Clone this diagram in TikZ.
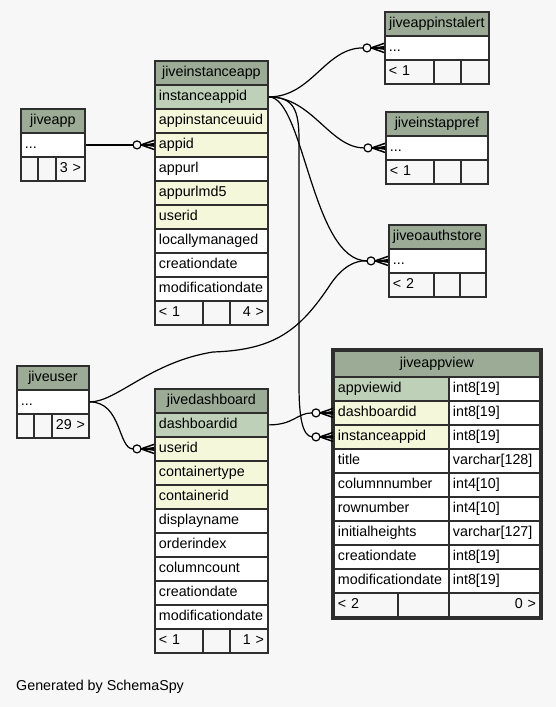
\documentclass[tikz,border=0pt]{standalone}
\usepackage{fontspec}
\setmainfont{Liberation Sans}
\usepackage{tikz}
\definecolor{bgc}{HTML}{F7F7F7}
\definecolor{headc}{HTML}{9BAB96}
\definecolor{pkc}{HTML}{BED1B8}
\definecolor{fkc}{HTML}{F4F7DA}
\definecolor{linec}{HTML}{2E2E2E}

\begin{document}
\begin{tikzpicture}[x=1pt, y=-1pt,
    cellbox/.style={draw=linec, line width=1.8pt, inner xsep=4pt, inner ysep=0pt,
        minimum height=24pt, text height=10.5pt, text depth=3.5pt,
        font=\fontsize{14.3}{17}\selectfont, align=left},
    fklink/.style={line width=1.2pt, black}]
            %% 定义cellrow命令: 名字, x, y, 宽度, 选项, 文字
            \newcommand{\cellrow}[6]{
                \node[cellbox, #5, minimum width=#4, text width=#4-8, anchor=north west]
                    (#1) at (#2, #3) {#6};
            }
            %% 定义crowodot命令
            \newcommand{\crowodot}[1]{
                \begin{scope}[shift={(#1)}]
                \draw[fklink, line width=1.5pt] (-13, 0)--(0, -4.5) (-13, 0)--(0, 0) (-13, 0)--(0, 4.5);
                \fill[black] (-13, 0)--(0, -2)--(0, 2)--cycle;
                \draw[fklink, fill=bgc] (-17, 0) circle [radius=4];
                \end{scope}
            }
            %% 背景
            \useasboundingbox (0, 0) rectangle (556, 707);
            \fill[bgc] (0, 0) rectangle (556, 707);

            %% jiveapp
            \cellrow{jiveapp}{20}{108}{64}{fill=headc, align=center}{jiveapp}
            \cellrow{ja-dots}{20}{132}{64}{fill=white}{...}
            \cellrow{ja-f1}{20}{156}{17}{}{}
            \cellrow{ja-f2}{37}{156}{18}{}{}
            \cellrow{ja-f3}{55}{156}{29}{align=right, inner xsep=3pt}{3~>}

            %% jiveinstanceapp
            \cellrow{jiveinstanceapp}{154}{60}{113}{fill=headc, align=center}{jiveinstanceapp}
            \foreach \n/\c [count=\i] in {instanceappid/pkc, appinstanceuuid/fkc, appid/fkc,
                    appurl/white, appurlmd5/fkc, userid/fkc, locallymanaged/white,
                    creationdate/white, modificationdate/white}{
                \cellrow{ia-\n}{154}{60+24*\i}{113}{fill=\c}{\n}
            }
            \cellrow{ia-f1}{154}{300}{48}{}{<~1}
            \cellrow{ia-f2}{202}{300}{27}{}{}
            \cellrow{ia-f3}{229}{300}{38}{align=right}{4~>}

            %% jiveappinstalert
            \cellrow{jiveappinstalert}{384}{11}{104}{fill=headc, align=center}{jiveappinstalert}
            \cellrow{al-dots}{384}{35}{104}{fill=white}{...}
            \cellrow{al-f1}{384}{59}{49}{}{<~1}
            \cellrow{al-f2}{433}{59}{27}{}{}
            \cellrow{al-f3}{460}{59}{28}{}{}

            %% jiveinstappref
            \cellrow{jiveinstappref}{385}{111}{102}{fill=headc, align=center}{jiveinstappref}
            \cellrow{ap-dots}{385}{135}{102}{fill=white}{...}
            \cellrow{ap-f1}{385}{159}{48}{}{<~1}
            \cellrow{ap-f2}{433}{159}{27}{}{}
            \cellrow{ap-f3}{460}{159}{27}{}{}

            %% jiveoauthstore
            \cellrow{jiveoauthstore}{388}{224}{97}{fill=headc, align=center}{jiveoauthstore}
            \cellrow{oa-dots}{388}{248}{97}{fill=white}{...}
            \cellrow{oa-f1}{388}{272}{45}{}{<~2}
            \cellrow{oa-f2}{433}{272}{26}{}{}
            \cellrow{oa-f3}{459}{272}{26}{}{}

            %% jiveuser
            \cellrow{jiveuser}{16}{365}{72}{fill=headc, align=center}{jiveuser}
            \cellrow{ju-dots}{16}{389}{72}{fill=white}{...}
            \cellrow{ju-f1}{16}{413}{17}{}{}
            \cellrow{ju-f2}{33}{413}{18}{}{}
            \cellrow{ju-f3}{51}{413}{37}{align=right, inner xsep=3pt}{29~>}

            %% jivedashboard
            \cellrow{jivedashboard}{154}{388}{113}{fill=headc, align=center}{jivedashboard}
            \foreach \n/\c [count=\i] in {dashboardid/pkc, userid/fkc, containertype/fkc,
                    containerid/fkc, displayname/white, orderindex/white, columncount/white,
                    creationdate/white, modificationdate/white}{
                \cellrow{jd-\n}{154}{388+24*\i}{113}{fill=\c}{\n}
            }
            \cellrow{jd-f1}{154}{628}{48}{}{<~1}
            \cellrow{jd-f2}{202}{628}{27}{}{}
            \cellrow{jd-f3}{229}{628}{38}{align=right}{1~>}

            %% jiveappview
            \cellrow{jiveappview}{333}{350}{206}{fill=headc, align=center, minimum height=26pt}{jiveappview}
            \foreach \n/\c/\ty [count=\i] in {appviewid/pkc/int8[19], dashboardid/fkc/int8[19],
                    instanceappid/fkc/int8[19], title/white/varchar[128], columnnumber/white/int4[10],
                    rownumber/white/int4[10], initialheights/white/varchar[127],
                    creationdate/white/int8[19], modificationdate/white/int8[19]}{
                \cellrow{av-\n}{333}{352+24*\i}{115}{fill=\c}{\n}
                \cellrow{av-\n-t}{448}{352+24*\i}{91}{fill=white}{\ty}
            }
            \cellrow{av-f1}{333}{592}{64}{}{<~2}
            \cellrow{av-f2}{397}{592}{51}{}{}
            \cellrow{av-f3}{448}{592}{91}{align=right}{0~>}
            \draw[linec, line width=3.5pt] (jiveappview.north west) rectangle (av-f3.south east);

            %% 连线
            \draw[fklink] (ja-dots.east)--([xshift=-21pt]ia-appid.west);
            \draw[fklink] (ia-instanceappid.east) .. controls +(43, 0) and +(-38, 0) .. ([xshift=-21pt]al-dots.west);
            \draw[fklink] (ia-instanceappid.east) .. controls +(43, 0) and +(-34, 0) .. ([xshift=-21pt]ap-dots.west);
            \draw[fklink] (ia-instanceappid.east) .. controls +(35, 0) and +(-55, 0) .. ([xshift=-21pt]oa-dots.west);
            \draw[fklink] (ia-instanceappid.east) .. controls +(25, 0) and (299, 110) .. (299, 140)
                --(299, 385) .. controls (299, 415) and (302, 436) .. ([xshift=-21pt]av-instanceappid.west);
            \draw[fklink] (ju-dots.east) .. controls +(27, 0) and (150, 362) .. (213, 352)
                .. controls (275, 350) and (300, 330) .. (330, 285)
                .. controls (342, 267) and (355, 260) .. ([xshift=-21pt]oa-dots.west);
            \draw[fklink] (ju-dots.east) .. controls +(32, 0) and +(-15, 0) .. ([xshift=-21pt]jd-userid.west);
            \draw[fklink] (jd-dashboardid.east) .. controls +(25, 0) and +(-15, 0) .. ([xshift=-21pt]av-dashboardid.west);

            %% 端点标记
            \crowodot{ia-appid.west}
            \crowodot{al-dots.west}
            \crowodot{ap-dots.west}
            \crowodot{oa-dots.west}
            \crowodot{jd-userid.west}
            \crowodot{av-dashboardid.west}
            \crowodot{av-instanceappid.west}

            \node[anchor=west, inner sep=0pt, font=\fontsize{14.3}{17}\selectfont] (gen) at (16, 687) {Generated by SchemaSpy};
\end{tikzpicture}
\end{document}
